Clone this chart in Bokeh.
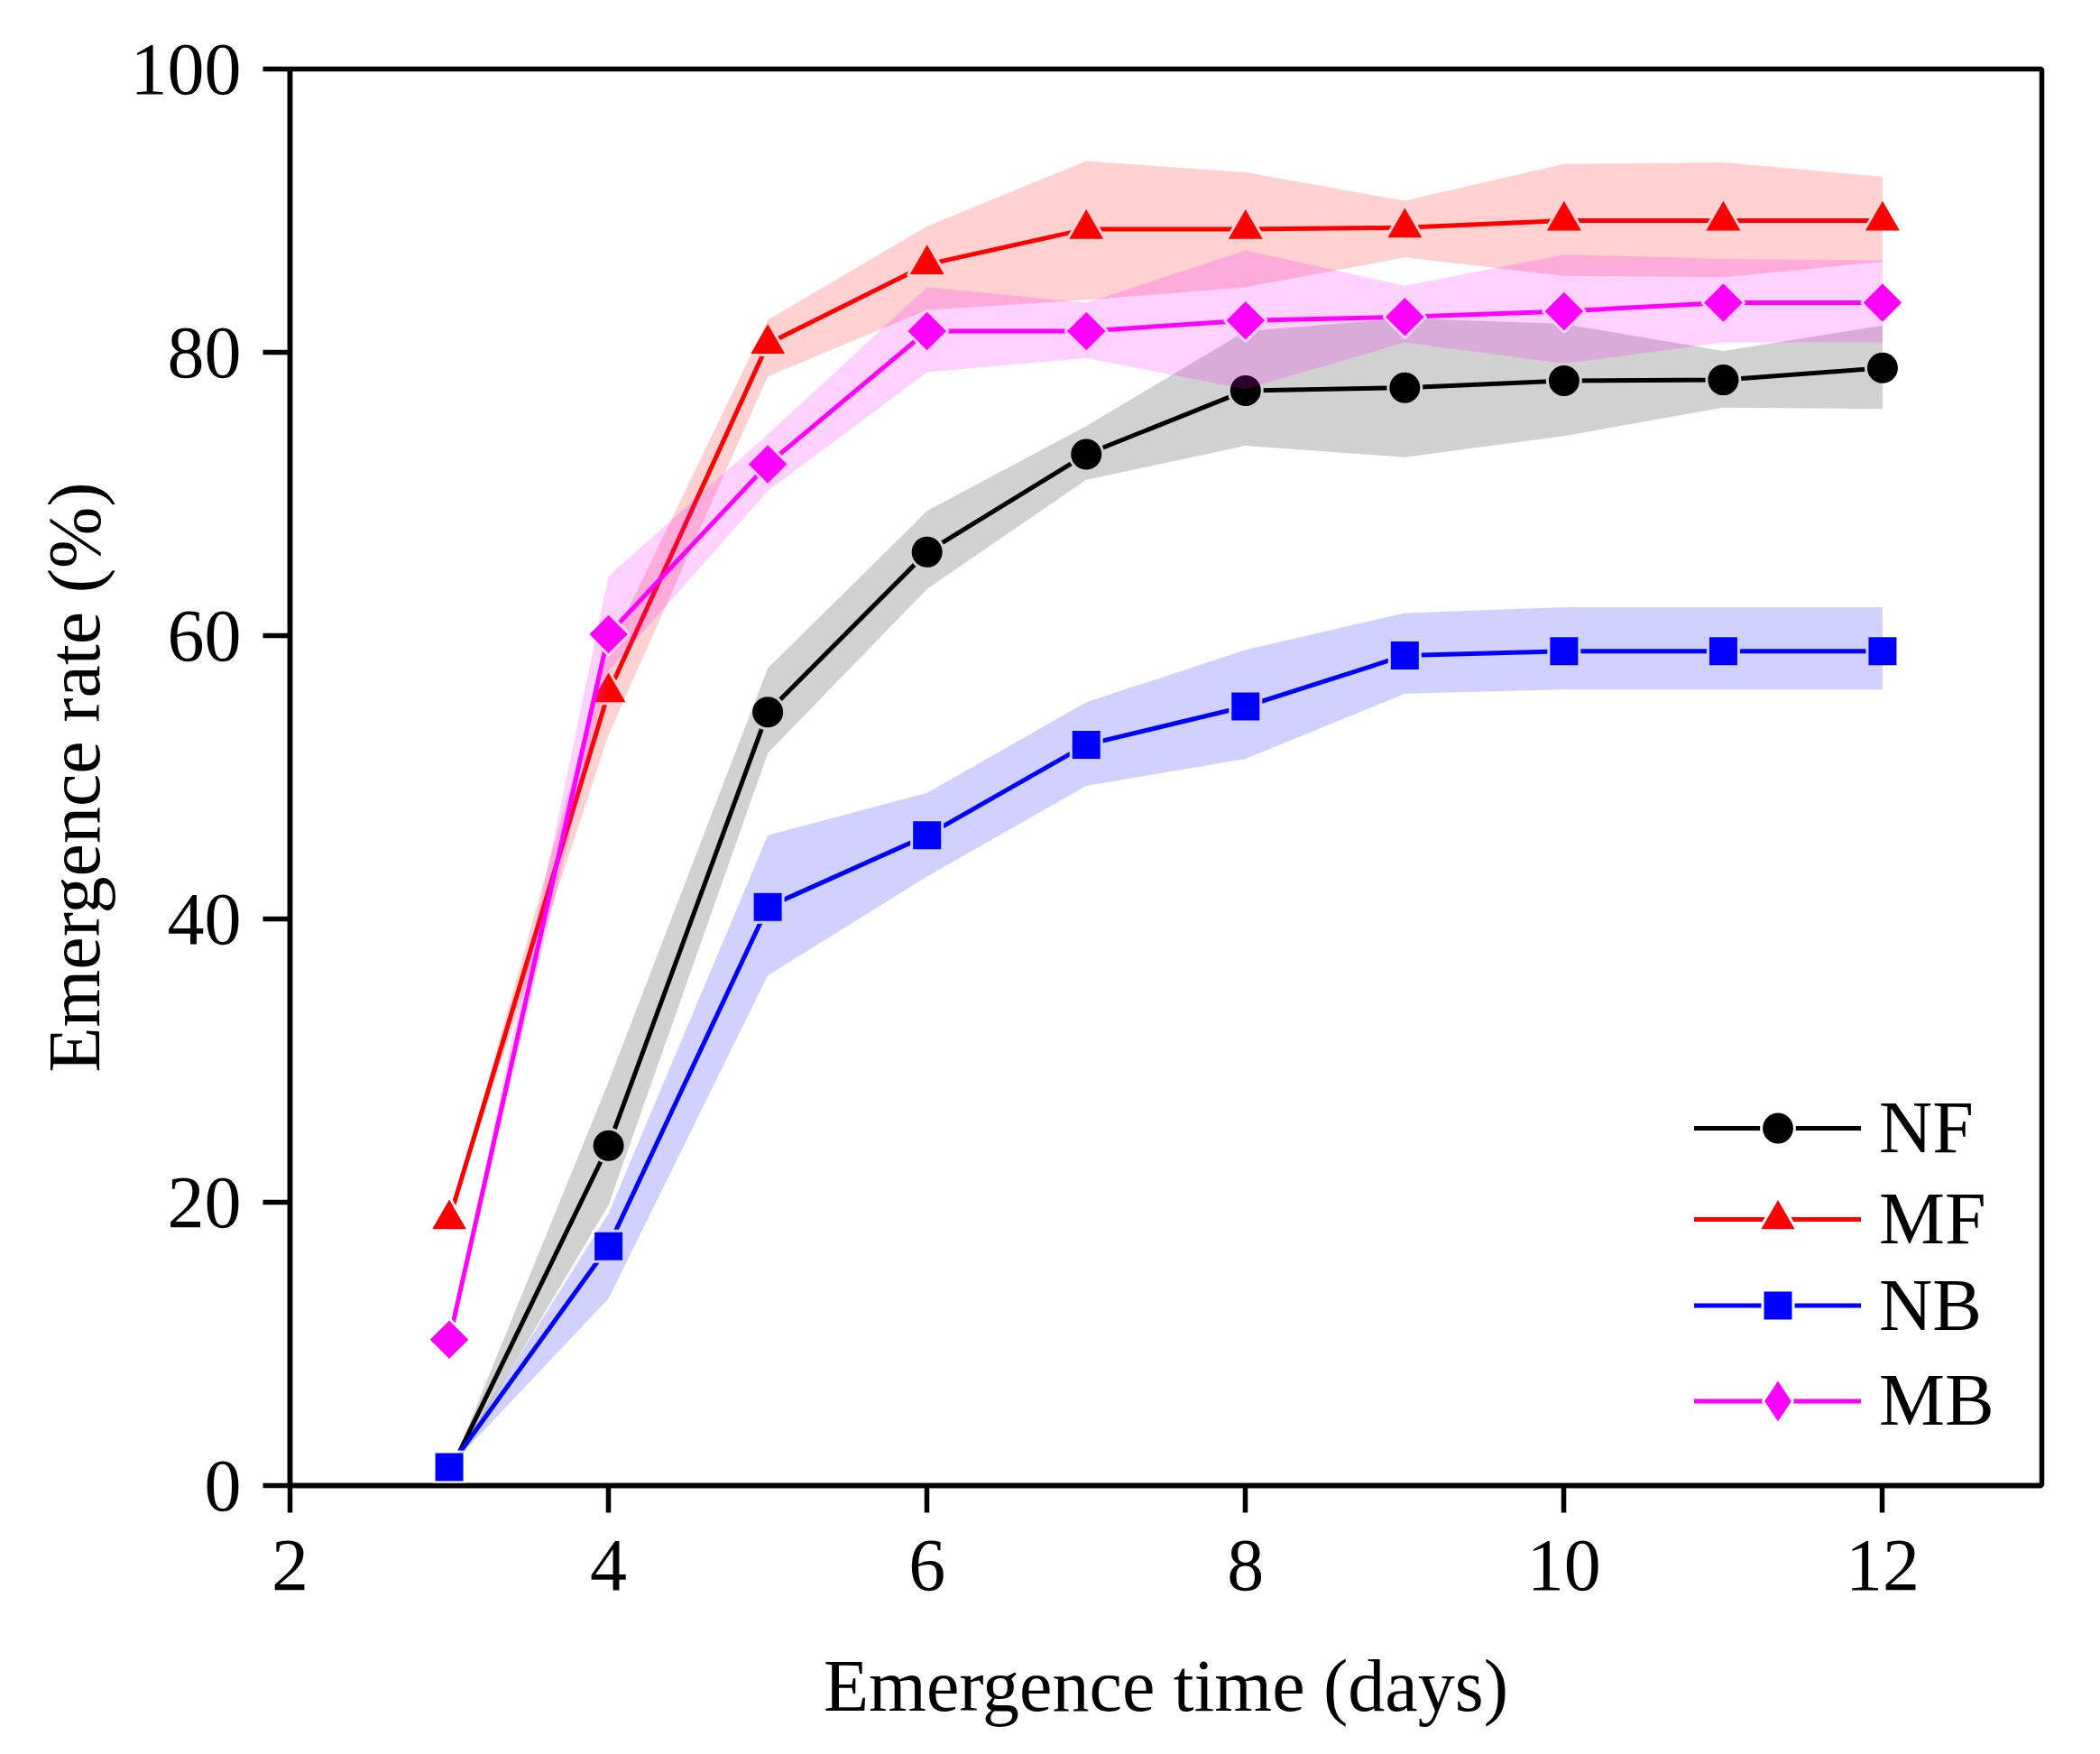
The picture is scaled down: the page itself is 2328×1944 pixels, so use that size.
import math
from bokeh.plotting import figure
from bokeh.models import FixedTicker, Legend, LegendItem, Range1d
from bokeh.embed import file_html
from bokeh.resources import INLINE

# dias de emergência
days = [3, 4, 5, 6, 7, 8, 9, 10, 11, 12]

# NF
nf_mean = [0.9, 24.0, 54.6, 65.9, 72.8, 77.3, 77.5, 78.0, 78.05, 78.9]
nf_low = [0.9, 19.8, 51.7, 63.3, 71.0, 73.4, 72.6, 74.1, 76.1, 76.0]
nf_high = [0.9, 28.5, 57.7, 68.8, 74.8, 81.5, 82.4, 82.0, 80.1, 81.9]

# MF
mf_mean = [18.8, 56.0, 80.6, 86.2, 88.7, 88.7, 88.8, 89.3, 89.3, 89.3]
mf_low = [18.8, 53.0, 78.3, 83.0, 83.7, 84.6, 86.7, 85.4, 85.3, 86.4]
mf_high = [18.8, 59.0, 82.3, 88.9, 93.5, 92.7, 90.7, 93.3, 93.4, 92.4]

# NB
nb_mean = [1.3, 16.9, 40.85, 45.9, 52.3, 55.0, 58.6, 58.9, 58.9, 58.9]
nb_low = [1.3, 13.2, 36.0, 43.0, 49.4, 51.3, 55.9, 56.2, 56.2, 56.2]
nb_high = [1.3, 19.2, 45.9, 48.9, 55.3, 59.0, 61.6, 62.0, 62.0, 62.0]

# MB
mb_mean = [10.3, 60.1, 72.1, 81.5, 81.5, 82.25, 82.5, 82.9, 83.5, 83.5]
mb_low = [10.3, 57.5, 70.2, 78.6, 79.6, 77.4, 80.7, 79.2, 80.7, 80.7]
mb_high = [10.3, 64.2, 74.2, 84.6, 83.5, 87.2, 84.7, 86.9, 86.6, 86.5]

x_ticks = [2, 4, 6, 8, 10, 12]
y_ticks = [0, 20, 40, 60, 80, 100]

FONT = "Liberation Serif"
FS = "82px"

p = figure(width=2312, height=1928, output_backend="svg", toolbar_location=None,
           x_range=Range1d(2, 13), y_range=Range1d(0, 100))
p.min_border_left = 321
p.min_border_right = 49
p.min_border_top = 76
p.min_border_bottom = 282
p.background_fill_color = "white"
p.border_fill_color = "white"
p.grid.visible = False
p.outline_line_color = "black"
p.outline_line_width = 5.5

p.xaxis.ticker = FixedTicker(ticks=x_ticks)
p.yaxis.ticker = FixedTicker(ticks=y_ticks)
p.xaxis.axis_label = "Emergence time (days)"
p.yaxis.axis_label = "Emergence rate (%)"
for ax in [p.xaxis[0], p.yaxis[0]]:
    ax.axis_line_width = 5.5
    ax.major_tick_line_width = 5.5
    ax.major_tick_in = 0
    ax.major_tick_out = 30
    ax.minor_tick_line_color = None
    ax.major_label_text_font = FONT
    ax.major_label_text_font_size = FS
    ax.major_label_text_color = "black"
    ax.axis_label_text_font = FONT
    ax.axis_label_text_font_size = FS
    ax.axis_label_text_font_style = "normal"
    ax.axis_label_text_color = "black"
p.xaxis.major_label_standoff = 31
p.xaxis.axis_label_standoff = 58
p.yaxis.major_label_standoff = 24
p.yaxis.axis_label_standoff = 14

# nome, média, limites, cor, marcador, tamanho, ângulo, altura do glifo na legenda
series = [
    ("NF", nf_mean, nf_low, nf_high, "black", "circle", 37, 0, 92),
    ("MF", mf_mean, mf_low, mf_high, "red", "triangle", 43, 0, 106),
    ("NB", nb_mean, nb_low, nb_high, "blue", "square", 34, 0, 85),
    ("MB", mb_mean, mb_low, mb_high, "magenta", "square", 33, math.pi / 4, 125),
]

# centro de cada linha da legenda, em px acima da base do quadro
centros = [395, 295, 195, 94]

for (nome, media, baixo, alto, cor, marcador, tam, ang, gh), cy in zip(series, centros):
    linha = p.line(days, media, line_color=cor, line_width=5, line_cap="round")
    leg = None
    if ang:
        # a legenda não gira o marcador: losango escondido sob o quadrado girado
        leg = p.scatter(days, media, marker="diamond", size=44,
                        fill_color=cor, line_color="white", line_width=3)
    pontos = p.scatter(days, media, marker=marcador, size=tam, angle=ang,
                       fill_color=cor, line_color="white", line_width=3)
    p.varea(x=days, y1=baixo, y2=alto, fill_color=cor, fill_alpha=0.18)

    legend = Legend(items=[LegendItem(label=nome, renderers=[linha, leg or pontos])],
                    location=(1557, cy - gh / 2))
    legend.margin = 0
    legend.padding = 0
    legend.glyph_width = 185
    legend.glyph_height = gh
    legend.label_height = gh
    legend.label_standoff = 20
    legend.label_text_font = FONT
    legend.label_text_font_size = FS
    legend.label_text_color = "black"
    legend.label_text_baseline = "middle"
    legend.border_line_alpha = 0
    legend.background_fill_alpha = 0
    p.add_layout(legend)

open("out.html", "w").write(file_html(p, INLINE))
